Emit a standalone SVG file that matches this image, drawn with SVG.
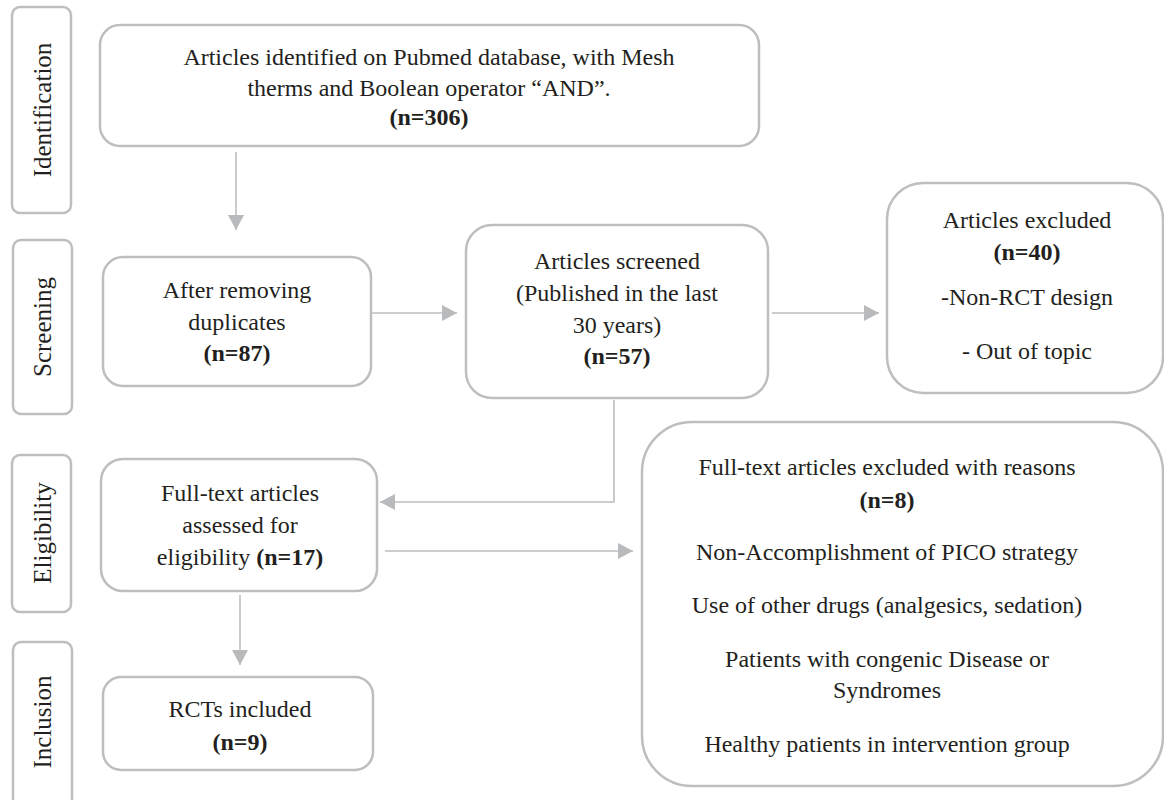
<svg xmlns="http://www.w3.org/2000/svg" width="1164" height="800" viewBox="0 0 1164 800">
<style>
.box{fill:#fff;stroke:#bcbec0;stroke-width:2.5}
.t{font-family:'Liberation Serif','Times New Roman',Times,serif;font-size:24px;fill:#231f20;text-anchor:middle}
.b{font-weight:bold}
.side{font-family:'Liberation Serif','Times New Roman',Times,serif;font-size:25px;fill:#231f20;text-anchor:middle}
.c{fill:none;stroke:#bcbec0;stroke-width:1.6}
</style>
<defs>
<marker id="ah" markerUnits="userSpaceOnUse" markerWidth="16" markerHeight="16" viewBox="0 0 16 16" refX="15" refY="8" orient="auto">
<path d="M0,0 L15,8 L0,16 Z" fill="#b8babc"/>
</marker>
</defs>
<rect width="1164" height="800" fill="#fff"/>
<g id="phase-identification"><rect class="box" x="12" y="7" width="59" height="206" rx="8"/><text class="side" transform="translate(51,110) rotate(-90)">Identification</text></g>
<g id="phase-screening"><rect class="box" x="13" y="240" width="59" height="174" rx="8"/><text class="side" transform="translate(51,327) rotate(-90)">Screening</text></g>
<g id="phase-eligibility"><rect class="box" x="12" y="455" width="59" height="157" rx="8"/><text class="side" transform="translate(51,533) rotate(-90)">Eligibility</text></g>
<g id="phase-inclusion"><rect class="box" x="13" y="642" width="59" height="175" rx="8"/><text class="side" transform="translate(51,722) rotate(-90)">Inclusion</text></g>

<g id="identified"><rect class="box" x="100" y="25" width="659" height="121" rx="20"/>
<text class="t" x="429" y="65">Articles identified on Pubmed database, with Mesh</text>
<text class="t" x="429" y="96">therms and Boolean operator “AND”.</text>
<text class="t b" x="429" y="125">(n=306)</text></g>

<g id="duplicates"><rect class="box" x="103" y="257" width="268" height="129" rx="20"/>
<text class="t" x="237" y="298">After removing</text>
<text class="t" x="237" y="330">duplicates</text>
<text class="t b" x="237" y="361">(n=87)</text></g>

<g id="screened"><rect class="box" x="466" y="225" width="302" height="173" rx="26"/>
<text class="t" x="617" y="269">Articles screened</text>
<text class="t" x="617" y="301">(Published in the last</text>
<text class="t" x="617" y="333">30 years)</text>
<text class="t b" x="617" y="364">(n=57)</text></g>

<g id="excluded"><rect class="box" x="887" y="183" width="276" height="210" rx="36"/>
<text class="t" x="1027" y="228">Articles excluded</text>
<text class="t b" x="1027" y="260">(n=40)</text>
<text class="t" x="1027" y="305">-Non-RCT design</text>
<text class="t" x="1027" y="359">- Out of topic</text></g>

<g id="fulltext"><rect class="box" x="101" y="459" width="276" height="132" rx="22"/>
<text class="t" x="240" y="501">Full-text articles</text>
<text class="t" x="240" y="533">assessed for</text>
<text class="t" x="240" y="565">eligibility <tspan class="b">(n=17)</tspan></text></g>

<g id="fulltext-excluded"><rect class="box" x="642" y="422" width="521" height="364" rx="50"/>
<text class="t" x="887" y="475">Full-text articles excluded with reasons</text>
<text class="t b" x="887" y="508">(n=8)</text>
<text class="t" x="887" y="560">Non-Accomplishment of PICO strategy</text>
<text class="t" x="887" y="613">Use of other drugs (analgesics, sedation)</text>
<text class="t" x="887" y="667">Patients with congenic Disease or</text>
<text class="t" x="887" y="698">Syndromes</text>
<text class="t" x="887" y="752">Healthy patients in intervention group</text></g>

<g id="included"><rect class="box" x="103" y="677" width="270" height="93" rx="18"/>
<text class="t" x="240" y="717">RCTs included</text>
<text class="t b" x="240" y="750">(n=9)</text></g>

<g id="connectors">
<path class="c" d="M236,152 V230" marker-end="url(#ah)"/>
<path class="c" d="M370,313 H457" marker-end="url(#ah)"/>
<path class="c" d="M772,313 H879" marker-end="url(#ah)"/>
<path class="c" d="M614,400 V502 H380" marker-end="url(#ah)"/>
<path class="c" d="M385,551 H633" marker-end="url(#ah)"/>
<path class="c" d="M240,595 V665" marker-end="url(#ah)"/>
</g>
</svg>
